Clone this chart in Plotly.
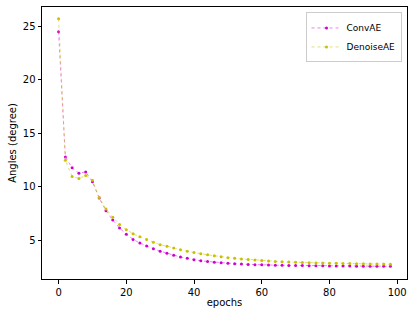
import plotly.graph_objects as go

epochs = list(range(0, 100, 2))
conv_ae = [24.5, 12.8, 11.78, 11.28, 11.4, 10.47, 8.96, 7.77, 6.9, 6.16,
           5.58, 5.1, 4.76, 4.48, 4.23, 4.0, 3.8, 3.62, 3.45, 3.33,
           3.2, 3.1, 3.04, 2.97, 2.91, 2.87, 2.83, 2.79, 2.76, 2.74,
           2.72, 2.70, 2.69, 2.68, 2.67, 2.66, 2.65, 2.64, 2.63, 2.63,
           2.62, 2.62, 2.61, 2.61, 2.60, 2.60, 2.60, 2.59, 2.59, 2.59]
denoise_ae = [25.7, 12.5, 10.98, 10.79, 11.07, 10.63, 9.0, 7.93, 7.16, 6.5,
              6.0, 5.63, 5.35, 5.1, 4.83, 4.6, 4.46, 4.3, 4.12, 4.0,
              3.88, 3.75, 3.66, 3.57, 3.47, 3.39, 3.33, 3.27, 3.22, 3.17,
              3.12, 3.08, 3.04, 3.01, 2.98, 2.96, 2.94, 2.92, 2.90, 2.89,
              2.87, 2.86, 2.85, 2.84, 2.83, 2.82, 2.81, 2.80, 2.79, 2.78]
x_ticks = [0, 20, 40, 60, 80, 100]
y_ticks = [5, 10, 15, 20, 25]

fig = go.Figure()
fig.add_trace(go.Scatter(x=epochs, y=conv_ae, name="ConvAE", mode="lines+markers",
                         line=dict(color="rgba(224,0,224,0.55)", width=0.9, dash="dot"),
                         marker=dict(color="#d000d0", size=3)))
fig.add_trace(go.Scatter(x=epochs, y=denoise_ae, name="DenoiseAE", mode="lines+markers",
                         line=dict(color="rgba(200,200,0,0.6)", width=0.9, dash="dot"),
                         marker=dict(color="#c8c000", size=3)))

axis_common = dict(showline=True, linecolor="black", linewidth=1, mirror=True,
                   ticks="outside", ticklen=3.5, tickcolor="black", showgrid=False,
                   zeroline=False, automargin=False,
                   tickfont=dict(family="DejaVu Sans", size=10, color="black"))
fig.update_layout(
    width=415, height=319,
    margin=dict(l=42, r=8, t=7, b=40),
    plot_bgcolor="white", paper_bgcolor="white",
    font=dict(family="DejaVu Sans", size=10, color="black"),
    xaxis=dict(range=[-4.9, 102.9], tickvals=x_ticks,
               title=dict(text="epochs", font=dict(size=10), standoff=2), **axis_common),
    yaxis=dict(range=[1.4, 26.8], tickvals=y_ticks,
               title=dict(text="Angles (degree)", font=dict(size=10), standoff=4), **axis_common),
    legend=dict(x=0.985, y=0.98, xanchor="right", yanchor="top",
                bgcolor="rgba(255,255,255,0.8)", bordercolor="#cccccc", borderwidth=1,
                font=dict(size=9), tracegroupgap=0, itemwidth=30),
)
fig.write_html("out.html", config={"displayModeBar": False},
               post_script="document.body.style.margin='0';document.body.style.overflow='hidden';")
